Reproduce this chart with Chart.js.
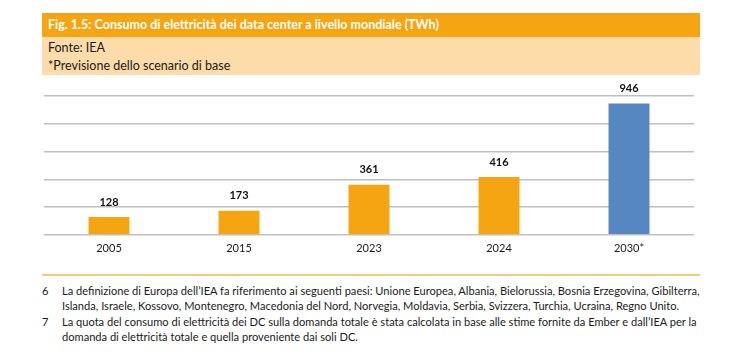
<!DOCTYPE html>
<html>
<head>
<meta charset="utf-8">
<script src="https://cdn.jsdelivr.net/npm/chart.js@4/dist/chart.umd.min.js"></script>
<style>
  html, body { margin:0; padding:0; background:#fff; width:732px; height:361px; overflow:hidden; font-family: Lato, "Liberation Sans", sans-serif; }
  #hdr { position:absolute; left:42px; top:13px; width:658px; height:24px; background:#F5A511; color:#fff; font-weight:bold; font-size:12.5px; line-height:24px; box-sizing:border-box; padding-left:6px; }
  #sub { position:absolute; left:42px; top:37px; width:658px; height:38px; background:#FDDCAA; color:#1a1a1a; font-size:12.5px; box-sizing:border-box; padding-left:6px; padding-top:2px; line-height:17.5px; }
  #wrap { position:absolute; left:0; top:80px; width:732px; height:189px; }
  #sep { position:absolute; left:42px; top:274px; width:658px; height:2px; background:#F9C979; }
  .fn { position:absolute; left:42px; font-size:11.1px; color:#1a1a1a; line-height:15.5px; }
  .fn .n { position:absolute; left:0; }
  .fn .t { position:absolute; left:20px; white-space:nowrap; }
</style>
</head>
<body>
<div id="hdr">Fig. 1.5: Consumo di elettricità dei data center a livello mondiale (TWh)</div>
<div id="sub">Fonte: IEA<br>*Previsione dello scenario di base</div>
<div id="wrap"><canvas id="c"></canvas></div>
<div id="sep"></div>
<div class="fn" style="top:283px;"><span class="n">6</span><span class="t">La definizione di Europa dell’IEA fa riferimento ai seguenti paesi: Unione Europea, Albania, Bielorussia, Bosnia Erzegovina, Gibilterra,</span></div>
<div class="fn" style="top:298px;"><span class="t">Islanda, Israele, Kossovo, Montenegro, Macedonia del Nord, Norvegia, Moldavia, Serbia, Svizzera, Turchia, Ucraina, Regno Unito.</span></div>
<div class="fn" style="top:314px;"><span class="n">7</span><span class="t">La quota del consumo di elettricità dei DC sulla domanda totale è stata calcolata in base alle stime fornite da Ember e dall’IEA per la</span></div>
<div class="fn" style="top:329px;"><span class="t">domanda di elettricità totale e quella proveniente dai soli DC.</span></div>
<script>
const categories = ["2005", "2015", "2023", "2024", "2030*"];
const consumptionTWh = [128, 173, 361, 416, 946];
const barColors = ["#F5A511", "#F5A511", "#F5A511", "#F5A511", "#5687C1"];

const valueLabels = {
  id: 'valueLabels',
  afterDatasetsDraw(chart) {
    const ctx = chart.ctx;
    const meta = chart.getDatasetMeta(0);
    ctx.save();
    ctx.font = 'bold 11px Lato, "Liberation Sans", sans-serif';
    ctx.fillStyle = '#111';
    ctx.textAlign = 'center';
    ctx.textBaseline = 'middle';
    meta.data.forEach((bar, i) => {
      ctx.fillText(String(chart.data.datasets[0].data[i]), bar.x, bar.y - 15);
    });
    ctx.restore();
  }
};

new Chart(document.getElementById('c'), {
  type: 'bar',
  data: {
    labels: categories,
    datasets: [{
      data: consumptionTWh,
      backgroundColor: barColors,
      barPercentage: 0.63,
      categoryPercentage: 0.5
    }]
  },
  options: {
    responsive: true,
    maintainAspectRatio: false,
    animation: false,
    layout: { padding: { left: 44, right: 38, top: 16, bottom: 7 } },
    plugins: { legend: { display: false }, tooltip: { enabled: false } },
    scales: {
      x: {
        grid: { display: false, drawTicks: false },
        border: { display: false },
        ticks: { color: '#1a1a1a', font: { size: 11, family: 'Lato, "Liberation Sans", sans-serif' }, padding: 7 }
      },
      y: {
        min: 0, max: 1000,
        ticks: { display: false, stepSize: 200 },
        border: { display: false },
        grid: { color: '#BFBFBF', lineWidth: 1.5, drawTicks: false }
      }
    }
  },
  plugins: [valueLabels]
});
</script>
</body>
</html>
